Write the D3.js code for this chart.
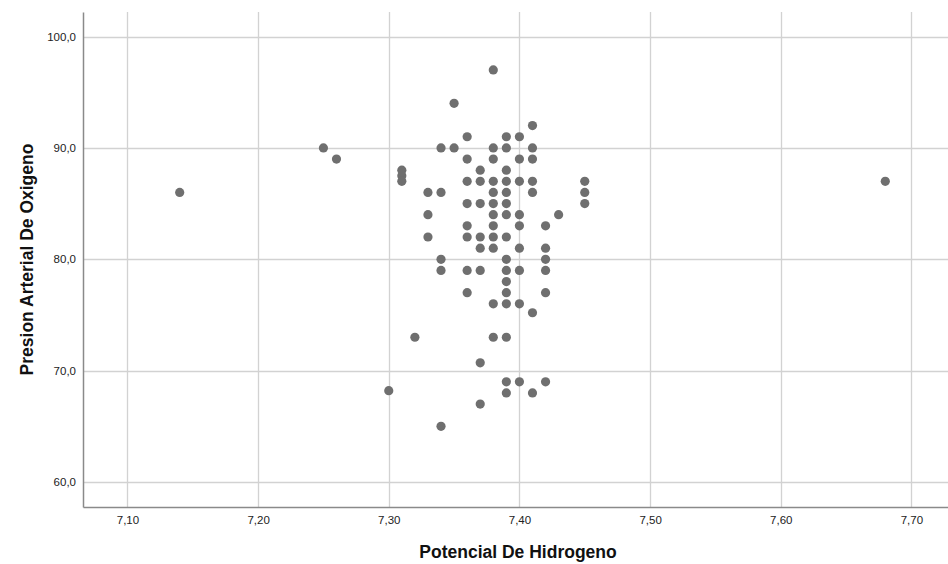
<!DOCTYPE html>
<html>
<head>
<meta charset="utf-8">
<script src="https://cdn.jsdelivr.net/npm/d3@7"></script>
<style>
  body { margin: 0; background: #fff; }
  text { font-family: "Liberation Sans", Arial, sans-serif; }
  .axisTitle { font-weight: bold; font-size: 17.5px; fill: #111; }
</style>
</head>
<body>
<div id="svg-area"></div>
<script>
// pH values
var phValues = [
  7.14, 7.25, 7.26, 7.30, 7.31, 7.31, 7.31, 7.32,
  7.33, 7.33, 7.33, 7.34, 7.34, 7.34, 7.34, 7.34,
  7.35, 7.35,
  7.36, 7.36, 7.36, 7.36, 7.36, 7.36, 7.36, 7.36,
  7.37, 7.37, 7.37, 7.37, 7.37, 7.37, 7.37, 7.37,
  7.38, 7.38, 7.38, 7.38, 7.38, 7.38, 7.38, 7.38, 7.38, 7.38, 7.38, 7.38,
  7.39, 7.39, 7.39, 7.39, 7.39, 7.39, 7.39, 7.39, 7.39, 7.39, 7.39, 7.39, 7.39, 7.39, 7.39, 7.39,
  7.40, 7.40, 7.40, 7.40, 7.40, 7.40, 7.40, 7.40, 7.40,
  7.41, 7.41, 7.41, 7.41, 7.41, 7.41, 7.41,
  7.42, 7.42, 7.42, 7.42, 7.42, 7.42,
  7.43, 7.45, 7.45, 7.45, 7.68
];

// matching oxygen pressure values
var po2Values = [
  86, 90, 89, 68.2, 88, 87.5, 87, 73,
  86, 84, 82, 90, 86, 80, 79, 65,
  94, 90,
  91, 89, 87, 85, 83, 82, 79, 77,
  88, 87, 85, 82, 81, 79, 70.7, 67,
  97, 90, 89, 87, 86, 85, 84, 83, 82, 81, 76, 73,
  91, 90, 88, 87, 86, 85, 84, 82, 80, 79, 78, 77, 76, 73, 69, 68,
  91, 89, 87, 84, 83, 81, 79, 76, 69,
  92, 90, 89, 87, 86, 75.2, 68,
  83, 81, 80, 79, 77, 69,
  84, 87, 86, 85, 87
];

var xTicks = [7.10, 7.20, 7.30, 7.40, 7.50, 7.60, 7.70];
var yTicks = [60, 70, 80, 90, 100];

var xTitle = "Potencial De Hidrogeno";
var yTitle = "Presion Arterial De Oxigeno";

var points = phValues.map((v, i) => ({ ph: v, po2: po2Values[i] }));

var svgWidth = 948;
var svgHeight = 564;

var margin = { top: 12, right: 0, bottom: 57, left: 83 };

var width = svgWidth - margin.left - margin.right;
var height = svgHeight - margin.top - margin.bottom;

var locale = d3.formatLocale({ decimal: ",", thousands: ".", grouping: [3], currency: ["", ""] });

var svg = d3.select("#svg-area")
  .append("svg")
  .attr("width", svgWidth)
  .attr("height", svgHeight);

var chartGroup = svg.append("g")
  .attr("transform", `translate(${margin.left}, ${margin.top})`);

var xLinearScale = d3.scaleLinear()
  .domain([7.066, 7.728])
  .range([0, width]);

var yLinearScale = d3.scaleLinear()
  .domain([57.76, 102.2])
  .range([height, 0]);

// gridlines
chartGroup.append("g")
  .selectAll("line")
  .data(yTicks)
  .join("line")
  .attr("x1", 0)
  .attr("x2", width)
  .attr("y1", d => Math.round(yLinearScale(d)) + 0.5)
  .attr("y2", d => Math.round(yLinearScale(d)) + 0.5)
  .attr("stroke", "#d2d2d2")
  .attr("stroke-width", 1.3);

chartGroup.append("g")
  .selectAll("line")
  .data(xTicks)
  .join("line")
  .attr("x1", d => Math.round(xLinearScale(d)) + 0.5)
  .attr("x2", d => Math.round(xLinearScale(d)) + 0.5)
  .attr("y1", 0)
  .attr("y2", height)
  .attr("stroke", "#d2d2d2")
  .attr("stroke-width", 1.3);

// axes
var bottomAxis = d3.axisBottom(xLinearScale)
  .tickValues(xTicks)
  .tickSize(0)
  .tickPadding(9)
  .tickFormat(locale.format(".2f"));

var leftAxis = d3.axisLeft(yLinearScale)
  .tickValues(yTicks)
  .tickSize(0)
  .tickPadding(7)
  .tickFormat(locale.format(".1f"));

var xAxisG = chartGroup.append("g")
  .attr("transform", `translate(0, ${height})`)
  .call(bottomAxis);

var yAxisG = chartGroup.append("g")
  .call(leftAxis);

[xAxisG, yAxisG].forEach(g => {
  g.select(".domain").attr("stroke", "#8a8a8a").attr("stroke-width", 1.5);
  g.selectAll("text")
    .attr("font-family", "Liberation Sans, Arial, sans-serif")
    .attr("font-size", 11.5)
    .attr("fill", "#222");
});

// points
chartGroup.selectAll("circle")
  .data(points)
  .join("circle")
  .attr("cx", d => xLinearScale(d.ph))
  .attr("cy", d => yLinearScale(d.po2))
  .attr("r", 4.6)
  .attr("fill", "#6f6f6f");

// axis titles
svg.append("text")
  .attr("class", "axisTitle")
  .attr("transform", `translate(33, ${margin.top + height / 2}) rotate(-90)`)
  .attr("text-anchor", "middle")
  .text(yTitle);

svg.append("text")
  .attr("class", "axisTitle")
  .attr("x", 518)
  .attr("y", 558)
  .attr("text-anchor", "middle")
  .text(xTitle);
</script>
</body>
</html>
